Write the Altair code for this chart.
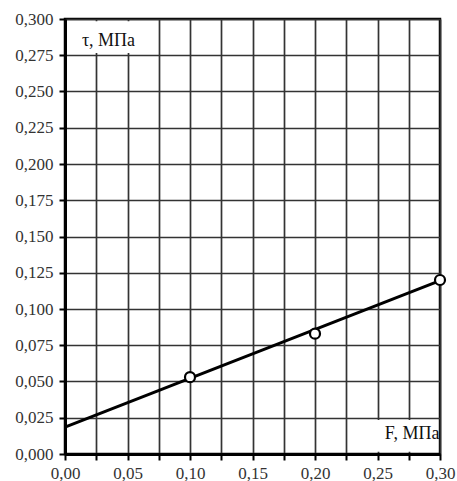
import altair as alt
import pandas as pd

# Measured points: normal stress F vs shear stress tau (MPa)
load_f = [0.10, 0.20, 0.30]
shear_tau = [0.053, 0.083, 0.120]

# Linear trend line end points
trend_f = [0.0, 0.30]
trend_tau = [0.0185, 0.1195]

# Tick / grid positions (every 0.025 MPa)
tick_vals = [round(i * 0.025, 3) for i in range(13)]

# White label backgrounds (data coords)
box_x0 = [0.002, 0.228]
box_x1 = [0.072, 0.2985]
box_y0 = [0.2765, 0.0015]
box_y1 = [0.2985, 0.0235]

# Axis captions: vertical-axis caption (left aligned), horizontal-axis caption (right aligned)
tau_caption = ["τ, МПа"]
tau_caption_f = [0.0135]
tau_caption_tau = [0.2815]
f_caption = ["F, МПа"]
f_caption_f = [0.2995]
f_caption_tau = [0.0105]

FONT = "Liberation Serif"

points = pd.DataFrame({"f": load_f, "tau": shear_tau})
trend = pd.DataFrame({"f": trend_f, "tau": trend_tau})
boxes = pd.DataFrame({"x0": box_x0, "x1": box_x1, "y0": box_y0, "y1": box_y1})
cap_left = pd.DataFrame({"t": tau_caption, "f": tau_caption_f, "tau": tau_caption_tau})
cap_right = pd.DataFrame({"t": f_caption, "f": f_caption_f, "tau": f_caption_tau})

axis_common = dict(
    values=tick_vals,
    title=None,
    grid=True,
    gridColor="#333333",
    gridWidth=1.7,
    domainColor="black",
    domainWidth=3,
    tickColor="black",
    tickWidth=2,
    tickSize=6,
    labelFont=FONT,
    labelFontSize=17,
    labelColor="#333333",
    labelOverlap=False,
    labelFlush=False,
)

x_axis = alt.Axis(
    labelExpr="(round(datum.value * 1000) % 50 == 0) ? replace(format(datum.value, '.2f'), '.', ',') : ''",
    labelPadding=5,
    **axis_common,
)
y_axis = alt.Axis(
    labelExpr="replace(format(datum.value, '.3f'), '.', ',')",
    labelPadding=6,
    **axis_common,
)

x_scale = alt.Scale(domain=[0, 0.3], nice=False, zero=False)
y_scale = alt.Scale(domain=[0, 0.3], nice=False, zero=False)


def xy(xf="f", yf="tau"):
    return dict(
        x=alt.X(f"{xf}:Q", scale=x_scale, axis=x_axis),
        y=alt.Y(f"{yf}:Q", scale=y_scale, axis=y_axis),
    )


rects = alt.Chart(boxes).mark_rect(fill="white").encode(
    x2="x1:Q", y2="y1:Q", **xy("x0", "y0")
)

line = alt.Chart(trend).mark_line(color="black", strokeWidth=3).encode(**xy())

dots = alt.Chart(points).mark_point(
    shape="circle", size=100, filled=False, fill="white", fillOpacity=1,
    stroke="black", strokeWidth=2.2, opacity=1,
).encode(**xy())

text_style = dict(font=FONT, fontSize=18, fontWeight="normal", color="#111111", baseline="alphabetic")

label_tau = alt.Chart(cap_left).mark_text(align="left", **text_style).encode(text="t:N", **xy())
label_f = alt.Chart(cap_right).mark_text(align="right", **text_style).encode(text="t:N", **xy())

chart = (
    alt.layer(rects, line, dots, label_tau, label_f)
    .properties(
        width=375,
        height=435,
        autosize=alt.AutoSizeParams(type="none"),
        padding={"left": 65, "top": 19, "right": 17, "bottom": 27},
        background="white",
    )
    .configure_view(stroke="black", strokeWidth=2.5)
)

chart.save("out.html", embed_options={"renderer": "svg", "actions": False})
